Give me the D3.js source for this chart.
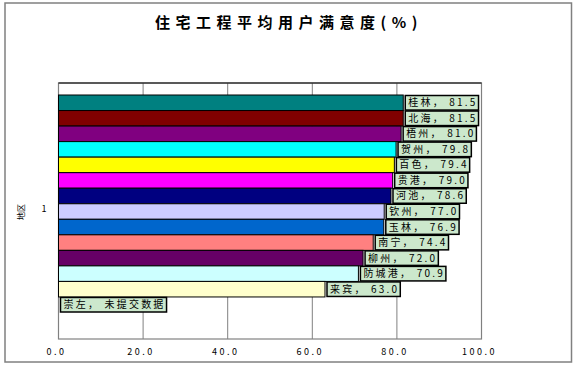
<!DOCTYPE html>
<html>
<head>
<meta charset="utf-8">
<script src="https://cdn.jsdelivr.net/npm/d3@7"></script>
<style>
  body { margin: 0; background: #fff; }
  text { font-family: "Noto Sans CJK SC", "DejaVu Sans", sans-serif; }
</style>
</head>
<body>
<script>
const WIDTH = 578;
const HEIGHT = 367;

const categories = ["1"];
const cities = ["桂林","北海","梧州","贺州","百色","贵港","河池","钦州","玉林","南宁","柳州","防城港","来宾","崇左"];
const values = [81.5, 81.5, 81.0, 79.8, 79.4, 79.0, 78.6, 77.0, 76.9, 74.4, 72.0, 70.9, 63.0, null];
const colors = ["#008080","#800000","#800080","#00ffff","#ffff00","#ff00ff","#000080",
                "#ccccff","#0066cc","#ff8080","#660066","#ccffff","#ffffcc","#ffffff"];
const xTicks = [0, 20, 40, 60, 80, 100];

function main(){
    let svg = d3.select("body")
        .append("svg")
        .attr("width",WIDTH)
        .attr("height",HEIGHT);

    // chart border
    svg.append("rect")
        .attr("x",5).attr("y",3)
        .attr("width",566.5).attr("height",359)
        .attr("fill","#fff")
        .attr("stroke","#808080")
        .attr("stroke-width",1.5);

    svg.append("text")
        .attr("x",289).attr("y",28)
        .attr("text-anchor","middle")
        .style("font-size","15px")
        .style("font-weight","bold")
        .style("letter-spacing","5.5px")
        .text("住宅工程平均用户满意度(%)");

    let x = d3.scaleLinear().domain([0,100]).range([58.5,481.5]);
    let yCat = d3.scaleBand().domain(categories).range([83,339]);
    let y = d3.scaleBand().domain(cities).range([95,312.5]).padding(0);

    // gridlines
    svg.selectAll(".grid")
        .data(xTicks.slice(1,-1))
        .enter()
        .append("line")
        .attr("class","grid")
        .attr("x1",d=>x(d)).attr("x2",d=>x(d))
        .attr("y1",yCat.range()[0]).attr("y2",yCat.range()[1])
        .attr("stroke","#808080")
        .attr("stroke-width",1);

    // plot frame
    svg.append("rect")
        .attr("x",x(0)).attr("y",yCat.range()[0])
        .attr("width",x(100)-x(0))
        .attr("height",yCat.range()[1]-yCat.range()[0])
        .attr("fill","none")
        .attr("stroke","#808080")
        .attr("stroke-width",1.2);
    svg.append("line")
        .attr("x1",x(0)).attr("x2",x(100))
        .attr("y1",yCat.range()[0]).attr("y2",yCat.range()[0])
        .attr("stroke","#000");

    let rows = cities.map((c,i)=>({city:c, value:values[i], color:colors[i]}));

    svg.selectAll(".bar")
        .data(rows.filter(d=>d.value!==null))
        .enter()
        .append("rect")
        .attr("class","bar")
        .attr("x",x(0))
        .attr("y",d=>y(d.city))
        .attr("width",d=>x(d.value)-x(0))
        .attr("height",y.bandwidth())
        .attr("fill",d=>d.color)
        .attr("stroke","#000")
        .attr("stroke-width",1);

    // data labels
    let fmt = d3.format(".1f");
    let labels = svg.selectAll(".lab")
        .data(rows)
        .enter()
        .append("g")
        .attr("class","lab")
        .attr("transform",d=>`translate(${x(d.value===null?0:d.value)+2},${y(d.city)})`);
    let boxes = labels.append("rect")
        .attr("y",0.5)
        .attr("height",y.bandwidth()-1)
        .attr("fill","#cce8cc")
        .attr("stroke","#000")
        .attr("stroke-width",1.5);
    let texts = labels.append("text")
        .attr("x",3)
        .attr("y",y.bandwidth()/2+3.5)
        .style("font-size","10px")
        .style("letter-spacing","2.2px")
        .attr("fill","#000")
        .text(d=>d.value===null ? d.city+"， 未提交数据" : d.city+"， "+fmt(d.value));
    texts.each(function(d){
        d.w = this.getComputedTextLength()+4;
    });
    boxes.attr("width",d=>d.w);

    // x tick labels
    svg.selectAll(".tick")
        .data(xTicks)
        .enter()
        .append("text")
        .attr("class","tick")
        .attr("x",d=>x(d)-2)
        .attr("y",355)
        .attr("text-anchor","middle")
        .style("font-size","9px")
        .style("letter-spacing","2.5px")
        .text(d=>fmt(d));

    // category label
    svg.selectAll(".cat")
        .data(categories)
        .enter()
        .append("text")
        .attr("class","cat")
        .attr("x",44)
        .attr("y",d=>yCat(d)+yCat.bandwidth()/2+1)
        .attr("text-anchor","middle")
        .style("font-size","9px")
        .text(d=>d);

    svg.append("text")
        .attr("transform","translate(24,212) rotate(-90)")
        .attr("text-anchor","middle")
        .style("font-size","8px")
        .text("地区");
}

window.addEventListener("load",main);
</script>
</body>
</html>
